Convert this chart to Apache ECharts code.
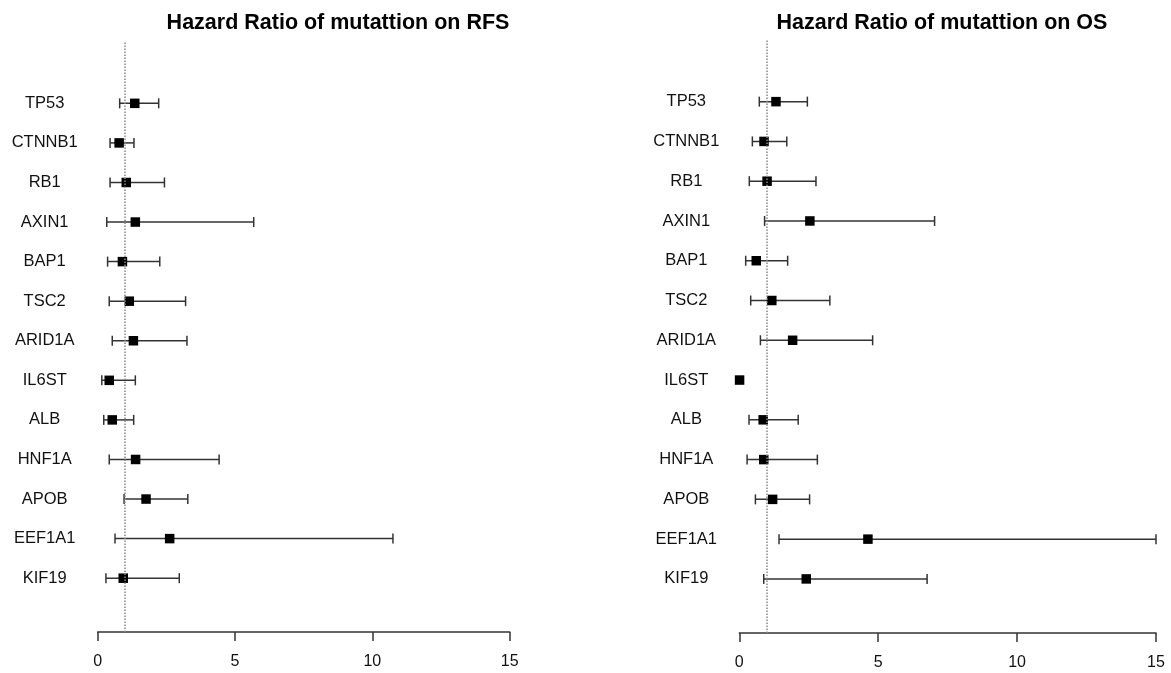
<!DOCTYPE html>
<html>
<head>
<meta charset="utf-8">
<script src="https://cdn.jsdelivr.net/npm/echarts@6/dist/echarts.min.js"></script>
<style>
html,body{margin:0;padding:0;background:#fff;}
#chart{width:1171px;height:673px;}
</style>
</head>
<body>
<div id="chart"></div>
<script>
// Genes from top to bottom
const genes = ['TP53','CTNNB1','RB1','AXIN1','BAP1','TSC2','ARID1A','IL6ST','ALB','HNF1A','APOB','EEF1A1','KIF19'];
// RFS (left panel)
const rfsHR    = [1.35, 0.78, 1.04, 1.37, 0.90, 1.15, 1.30, 0.42, 0.53, 1.38, 1.76, 2.62, 0.93];
const rfsLower = [0.80, 0.45, 0.45, 0.33, 0.36, 0.42, 0.53, 0.15, 0.22, 0.42, 0.96, 0.63, 0.30];
const rfsUpper = [2.22, 1.32, 2.43, 5.68, 2.26, 3.20, 3.25, 1.37, 1.31, 4.42, 3.28, 10.75, 2.97];
// OS (right panel)
const osHR     = [1.32, 0.89, 1.00, 2.54, 0.61, 1.17, 1.92, 0.01, 0.86, 0.88, 1.20, 4.63, 2.41];
const osLower  = [0.72, 0.47, 0.36, 0.91, 0.23, 0.41, 0.76, null, 0.35, 0.28, 0.58, 1.43, 0.88];
const osUpper  = [2.45, 1.71, 2.76, 7.03, 1.74, 3.26, 4.80, null, 2.12, 2.81, 2.53, 15.0, 6.76];
const xTicks = [0, 5, 10, 15];
const refLine = 1;
const titles = ['Hazard Ratio of mutattion on RFS', 'Hazard Ratio of mutattion on OS'];

const n = genes.length;
const rowPos = genes.map((g, i) => n - i);

function pointData(hr) { return hr.map((v, i) => [v, rowPos[i]]); }
function barData(lo, hi) { return lo.map((v, i) => [v, hi[i], rowPos[i]]); }

function renderBar(params, api) {
  const lo = api.value(0), hi = api.value(1), y = api.value(2);
  if (lo == null || hi == null || isNaN(lo) || isNaN(hi)) return null;
  const p1 = api.coord([lo, y]);
  const p2 = api.coord([hi, y]);
  const h = 5;
  const st = { stroke: '#333', lineWidth: 1.5 };
  return {
    type: 'group',
    children: [
      { type: 'line', shape: { x1: p1[0], y1: p1[1], x2: p2[0], y2: p2[1] }, style: st },
      { type: 'line', shape: { x1: p1[0], y1: p1[1] - h, x2: p1[0], y2: p1[1] + h }, style: st },
      { type: 'line', shape: { x1: p2[0], y1: p2[1] - h, x2: p2[0], y2: p2[1] + h }, style: st }
    ]
  };
}

const font = '"Liberation Sans", Arial, Helvetica, sans-serif';

function xAxisCfg(idx) {
  return {
    type: 'value', gridIndex: idx, min: 0, max: 15, interval: 5,
    axisLine: { show: true, onZero: false, lineStyle: { color: '#333', width: 1.5 } },
    axisTick: { show: true, inside: false, length: 9, lineStyle: { color: '#333', width: 1.5 } },
    axisLabel: { show: true, margin: 22, fontSize: 16, color: '#111', fontFamily: font,
      customValues: xTicks },
    splitLine: { show: false }
  };
}
function yAxisCfg(idx) {
  return {
    type: 'value', gridIndex: idx, min: -0.36, max: 14.55,
    axisLine: { show: false, onZero: false }, axisTick: { show: false }, splitLine: { show: false },
    axisLabel: {
      show: true, customValues: rowPos, align: 'center', margin: 53,
      fontSize: 16.5, color: '#111', fontFamily: font,
      formatter: v => genes[n - v]
    }
  };
}

const series = [];
[[rfsHR, rfsLower, rfsUpper], [osHR, osLower, osUpper]].forEach((d, k) => {
  series.push({
    type: 'custom', xAxisIndex: k, yAxisIndex: k,
    renderItem: renderBar, data: barData(d[1], d[2]),
    encode: { x: [0, 1], y: 2 }, silent: true, z: 2,
    markLine: {
      symbol: 'none', silent: true, label: { show: false },
      lineStyle: { type: 'dotted', color: '#888', width: 1.5 },
      data: [{ xAxis: refLine }]
    }
  });
  series.push({
    type: 'scatter', xAxisIndex: k, yAxisIndex: k,
    symbol: 'rect', symbolSize: 9.5, itemStyle: { color: '#000', opacity: 1 },
    data: pointData(d[0]), z: 3, silent: true
  });
});

const chart = echarts.init(document.getElementById('chart'), null, { renderer: 'canvas' });
chart.setOption({
  backgroundColor: '#fff',
  animation: false,
  title: [
    { text: titles[0], left: 333, top: 7, textAlign: 'center',
      textStyle: { fontSize: 21.5, fontWeight: 'bold', color: '#000', fontFamily: font } },
    { text: titles[1], left: 937, top: 7, textAlign: 'center',
      textStyle: { fontSize: 21.5, fontWeight: 'bold', color: '#000', fontFamily: font } }
  ],
  grid: [
    { left: 97.7, width: 412, top: 42, height: 590 },
    { left: 739.3, width: 416.7, top: 40, height: 593 }
  ],
  xAxis: [xAxisCfg(0), xAxisCfg(1)],
  yAxis: [yAxisCfg(0), yAxisCfg(1)],
  series: series
});
</script>
</body>
</html>
